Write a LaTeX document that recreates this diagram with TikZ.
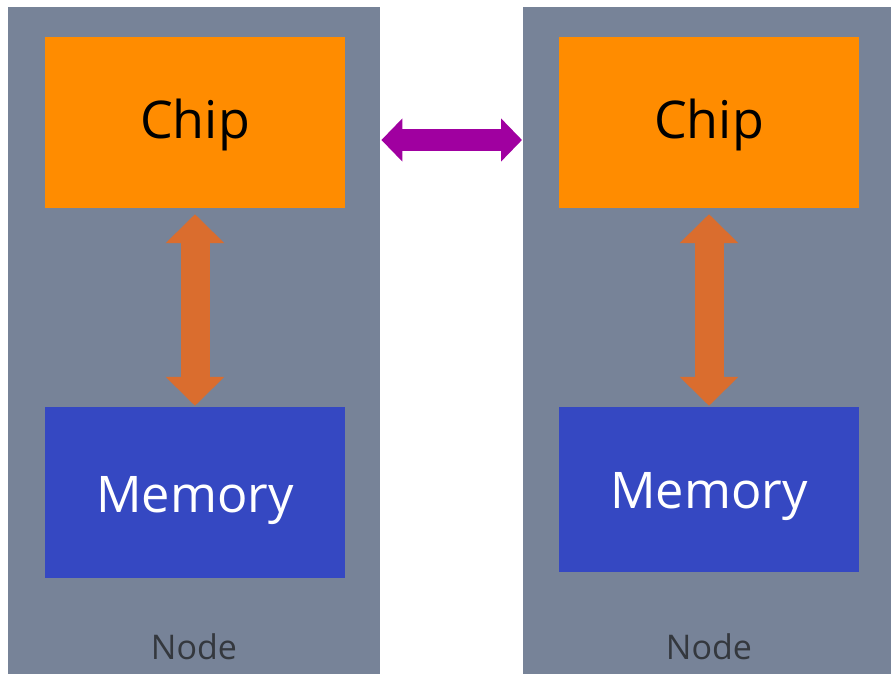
\documentclass[tikz,border=0pt]{standalone}
\usepackage{fontspec}
\setmainfont{Open Sans}
\usetikzlibrary{arrows.meta,calc}

\definecolor{panelgray}{RGB}{119,131,152}
\definecolor{chiporange}{RGB}{255,140,0}
\definecolor{memblue}{RGB}{53,72,194}
\definecolor{busorange}{RGB}{218,109,46}
\definecolor{linkpurple}{RGB}{160,0,160}
\definecolor{labelgray}{RGB}{52,56,62}

\tikzset{
  panel/.style={fill=panelgray, draw=none, inner sep=0pt, anchor=north west},
  chipbox/.style={fill=chiporange, draw=none, minimum width=300pt, minimum height=171pt,
    inner sep=0pt, text height=33pt, text depth=0pt,
    font=\fontsize{52}{60}\selectfont, text=black},
  membox/.style={fill=memblue, draw=none, minimum width=300pt,
    inner sep=0pt, text depth=0pt,
    font=\fontsize{50.5}{60}\selectfont, text=white},
  nodelabel/.style={font=\fontsize{34}{40}\selectfont, text=labelgray, inner sep=0pt},
  busarrow/.style={draw=busorange, line width=29pt,
    {Triangle[length=29pt,width=57pt]}-{Triangle[length=29pt,width=57pt]}},
  linkarrow/.style={draw=linkpurple, line width=22pt,
    {Triangle[length=21pt,width=42pt]}-{Triangle[length=21pt,width=42pt]}}
}

\begin{document}
\begin{tikzpicture}[x=1pt,y=-1pt]
  \useasboundingbox (0,0) rectangle (891,674);

  % two compute nodes
  \node[panel, minimum width=372pt, minimum height=667pt] (panelA) at (8,7) {};
  \node[panel, minimum width=368pt, minimum height=667pt] (panelB) at (523,7) {};

  % chips
  \node[chipbox] (chipA) at (195,122.5) {Chip};
  \node[chipbox] (chipB) at (709,122.5) {Chip};

  % memories
  \node[membox, minimum height=171pt, text height=40pt] (memA) at (195,492.5) {Memory};
  \node[membox, minimum height=165pt, text height=37pt] (memB) at (709,489.5) {Memory};

  % node captions
  \node[nodelabel] (labA) at (194,647) {Node};
  \node[nodelabel] (labB) at (709,647) {Node};

  % chip <-> memory buses
  \draw[busarrow] ([yshift=-6pt]chipA.south) -- ([yshift=1pt]memA.north);
  \draw[busarrow] ([yshift=-6pt]chipB.south) -- ([yshift=1pt]memB.north);

  % node <-> node link
  \coordinate (linkL) at ($(panelA.north east)+(1,133)$);
  \coordinate (linkR) at ($(panelB.north west)+(-1,133)$);
  \draw[linkarrow] (linkL) -- (linkR);
\end{tikzpicture}
\end{document}
